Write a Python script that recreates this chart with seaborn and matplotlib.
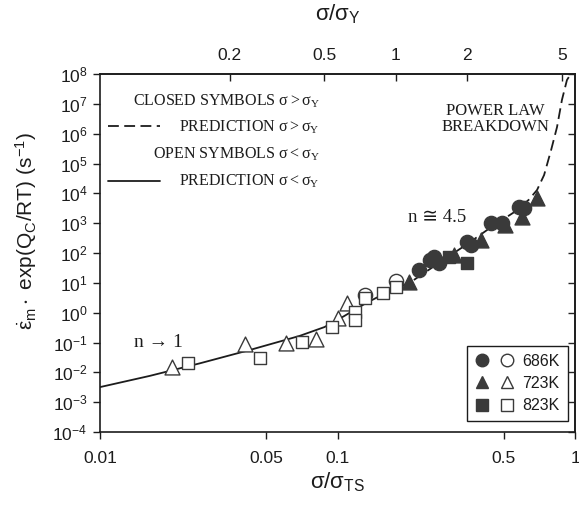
import numpy as np
import pandas as pd
import matplotlib
matplotlib.use("Agg")
import matplotlib.pyplot as plt
import seaborn as sns
from matplotlib.lines import Line2D
from matplotlib.legend_handler import HandlerTuple
from matplotlib.ticker import NullLocator, FixedFormatter, FixedLocator

sns.set_theme(style="ticks")
plt.rcParams["font.family"] = ["Liberation Sans", "DejaVu Sans"]
plt.rcParams["mathtext.fontset"] = "custom"
plt.rcParams["mathtext.rm"] = "Liberation Sans"
plt.rcParams["mathtext.it"] = "Liberation Sans"

DARK = "#3a3a3a"
INK = "#1c1c1c"

# prediction curves
solid_x = [0.01, 0.0162, 0.0263, 0.0427, 0.0692, 0.0882, 0.107, 0.132, 0.160, 0.182]
solid_y = [0.0032, 0.0076, 0.020, 0.056, 0.166, 0.33, 0.78, 2.1, 4.6, 7.2]
dashed_x = [0.182, 0.2065, 0.268, 0.352, 0.444, 0.556, 0.638, 0.692, 0.741, 0.793, 0.84, 0.881, 0.925, 0.96]
dashed_y = [7.2, 11.5, 47, 200, 740, 2370, 6030, 12900, 4.1e4, 2.8e5, 1.66e6, 1.35e7, 6.3e7, 1e8]

# open symbols (sigma < sigma_Y)
open_686_x = [0.130, 0.177]
open_686_y = [3.9, 11.5]
open_723_x = [0.0201, 0.0406, 0.0605, 0.0808, 0.100, 0.110]
open_723_y = [0.015, 0.089, 0.096, 0.13, 0.66, 2.1]
open_823_x = [0.0234, 0.047, 0.0706, 0.0944, 0.118, 0.118, 0.130, 0.155, 0.177]
open_823_y = [0.021, 0.030, 0.104, 0.33, 1.05, 0.57, 3.1, 4.5, 7.3]

# closed symbols (sigma > sigma_Y)
closed_686_x = [0.221, 0.244, 0.256, 0.268, 0.352, 0.366, 0.444, 0.493, 0.582, 0.611]
closed_686_y = [27, 58, 74, 46, 234, 186, 1014, 1014, 3470, 3240]
closed_723_x = [0.2006, 0.310, 0.403, 0.505, 0.598, 0.692]
closed_723_y = [10.7, 86, 273, 850, 1620, 6940]
closed_823_x = [0.2955, 0.3516]
closed_823_y = [74, 46]

temps = ["686K", "723K", "823K"]
shapes = {"686K": "o", "723K": "^", "823K": "s"}
sizes = {"686K": 105, "723K": 115, "823K": 80}

yield_ratio = 0.176  # sigma_Y / sigma_TS

series = [
    ("686K", "open", open_686_x, open_686_y),
    ("723K", "open", open_723_x, open_723_y),
    ("823K", "open", open_823_x, open_823_y),
    ("686K", "closed", closed_686_x, closed_686_y),
    ("723K", "closed", closed_723_x, closed_723_y),
    ("823K", "closed", closed_823_x, closed_823_y),
]
df = pd.concat(
    [pd.DataFrame({"x": x, "y": y, "temp": t, "state": s}) for t, s, x, y in series],
    ignore_index=True,
)

fig = plt.figure(figsize=(5.79, 5.08), dpi=100)
ax = fig.add_axes([100 / 579, 1 - 432 / 508, 475 / 579, 358 / 508])
ax.set_xscale("log")
ax.set_yscale("log")

sns.lineplot(x=solid_x, y=solid_y, ax=ax, color=INK, lw=1.3, sort=False, estimator=None)
sns.lineplot(x=dashed_x, y=dashed_y, ax=ax, color=INK, lw=1.3, sort=False,
             estimator=None, linestyle=(0, (6, 3)))

for (t, s), g in df.groupby(["temp", "state"]):
    face = DARK if s == "closed" else "white"
    sns.scatterplot(data=g, x="x", y="y", ax=ax, marker=shapes[t], s=sizes[t],
                    color=face, edgecolor=DARK, linewidth=1.0, zorder=3, legend=False)

ax.set_xlim(0.01, 1)
ax.set_ylim(1e-4, 1e8)
ax.set_xticks([0.01, 0.05, 0.1, 0.5, 1])
ax.set_xticklabels(["0.01", "0.05", "0.1", "0.5", "1"])
ax.xaxis.set_minor_locator(NullLocator())
ax.set_yticks([10.0 ** k for k in range(-4, 9)])
ax.yaxis.set_minor_locator(NullLocator())
ax.tick_params(axis="both", which="major", labelsize=12.5, colors=INK,
               direction="out", length=5, width=1)
ax.tick_params(axis="x", pad=9)
ax.tick_params(axis="y", pad=4)
for sp in ax.spines.values():
    sp.set_visible(True)
    sp.set_linewidth(1.2)
    sp.set_color(INK)

ax.set_xlabel(r"$\mathregular{\sigma/\sigma_{TS}}$", fontsize=16, color=INK, labelpad=3)
ax.set_ylabel(r"$\mathregular{\dot{\varepsilon}_m \cdot\ exp(Q_C/RT)\ (s^{-1})}$",
              fontsize=15, color=INK)
ax.yaxis.set_label_coords(-0.128, 0.561)

# top axis: sigma / sigma_Y
top = ax.secondary_xaxis("top", functions=(lambda v: v / yield_ratio, lambda v: v * yield_ratio))
top.xaxis.set_major_locator(FixedLocator([0.2, 0.5, 1, 2, 5]))
top.xaxis.set_major_formatter(FixedFormatter(["0.2", "0.5", "1", "2", "5"]))
top.xaxis.set_minor_locator(NullLocator())
top.tick_params(direction="in", length=5, width=1, labelsize=12.5, colors=INK, pad=8)
top.spines["top"].set_linewidth(1.2)
top.set_xlabel(r"$\mathregular{\sigma/\sigma_Y}$", fontsize=16, color=INK, labelpad=20)

# right axis: inward ticks, no labels
right = ax.secondary_yaxis("right", functions=(lambda v: v, lambda v: v))
right.yaxis.set_major_locator(FixedLocator([10.0 ** k for k in range(-4, 9)]))
right.yaxis.set_minor_locator(NullLocator())
right.tick_params(direction="in", length=5, width=1, labelright=False)

# text key, upper left
serif = ["Liberation Serif", "DejaVu Sans"]
key_rows = [
    (0.925, r"CLOSED SYMBOLS $\mathregular{\sigma > \sigma_Y}$"),
    (0.852, r"PREDICTION $\mathregular{\sigma > \sigma_Y}$"),
    (0.777, r"OPEN SYMBOLS $\mathregular{\sigma < \sigma_Y}$"),
    (0.701, r"PREDICTION $\mathregular{\sigma < \sigma_Y}$"),
]
for yy, txt in key_rows:
    ax.text(0.463, yy, txt, transform=ax.transAxes, ha="right", va="center",
            fontsize=11.5, family=serif, color=INK)
ax.plot([0.017, 0.126], [0.856, 0.856], transform=ax.transAxes, color=INK, lw=1.3,
        linestyle=(0, (6, 3)))
ax.plot([0.017, 0.126], [0.701, 0.701], transform=ax.transAxes, color=INK, lw=1.3)

ax.text(0.832, 0.874, "POWER LAW\nBREAKDOWN", transform=ax.transAxes, ha="center",
        va="center", fontsize=12, family=serif, color=INK, linespacing=1.05)
ax.text(0.709, 0.598, "n \u2245 4.5", transform=ax.transAxes, ha="center", va="center",
        fontsize=13.5, family=serif, color=INK)
ax.text(0.122, 0.251, "n \u2192 1", transform=ax.transAxes, ha="center", va="center",
        fontsize=14, family=serif, color=INK)

# symbol legend, lower right
handles = []
for t in temps:
    closed = Line2D([], [], ls="", marker=shapes[t], ms=9, mfc=DARK, mec=DARK)
    opened = Line2D([], [], ls="", marker=shapes[t], ms=9, mfc="white", mec=DARK, mew=1)
    handles.append((closed, opened))
leg = ax.legend(handles, temps, handler_map={tuple: HandlerTuple(ndivide=None, pad=0.6)},
                loc="lower right", bbox_to_anchor=(0.985, 0.03), borderaxespad=0,
                fontsize=11.5, handlelength=2.5, handletextpad=0.5, borderpad=0.5,
                labelspacing=0.45, fancybox=False, framealpha=1, edgecolor=INK)
leg.get_frame().set_linewidth(1.0)
for tx in leg.get_texts():
    tx.set_color(INK)

fig.savefig("out.png", dpi=100, facecolor="white")
